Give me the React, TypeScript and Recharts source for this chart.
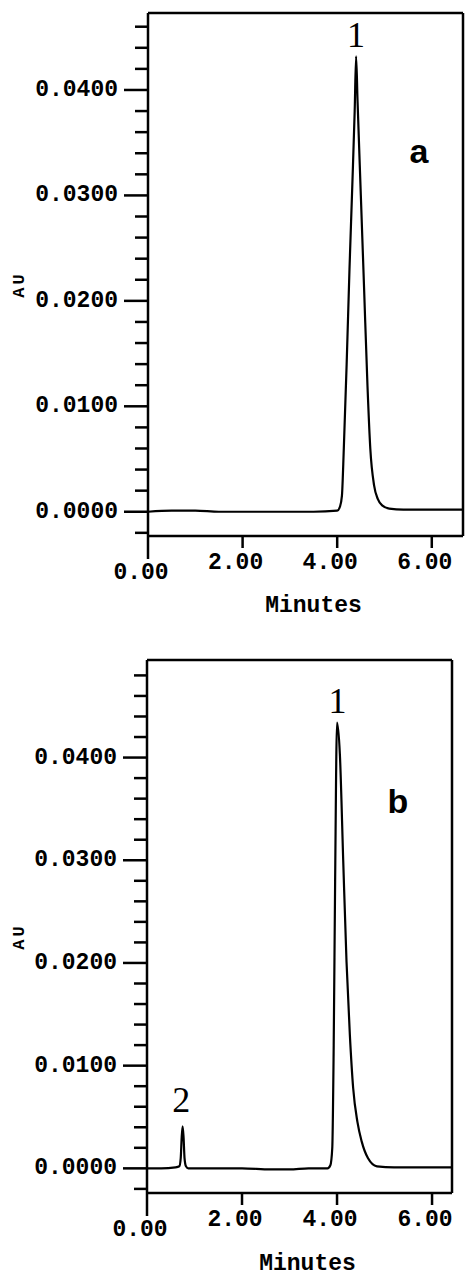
import React from 'react';
import {
  LineChart,
  Line,
  XAxis,
  YAxis,
  ReferenceLine,
  ReferenceDot,
} from 'recharts';

// panel a: retention time (min) and absorbance (AU)
const timeA = [0, 0.5, 1.0, 1.5, 2.0, 2.5, 3.0, 3.5, 4.0, 4.06, 4.1, 4.14, 4.2, 4.26, 4.32, 4.37, 4.4, 4.43, 4.5, 4.57, 4.64, 4.7, 4.78, 4.86, 4.95, 5.1, 5.4, 5.8, 6.3, 6.66];
const auA = [0.0, 0.0001, 0.0001, 0.0, 0.0, 0.0, 0.0, 0.0, 0.0001, 0.0005, 0.0015, 0.006, 0.014, 0.023, 0.031, 0.038, 0.0432, 0.039, 0.03, 0.021, 0.012, 0.006, 0.0025, 0.0012, 0.0006, 0.0003, 0.0002, 0.0002, 0.0002, 0.0002];

// panel b
const timeB = [0, 0.3, 0.6, 0.68, 0.71, 0.73, 0.75, 0.77, 0.79, 0.82, 0.87, 1.3, 2.0, 2.6, 3.0, 3.4, 3.8, 3.86, 3.9, 3.93, 3.96, 4.0, 4.06, 4.13, 4.2, 4.27, 4.34, 4.43, 4.52, 4.65, 4.84, 5.2, 5.8, 6.42];
const auB = [0.0, 0.0, 0.0001, 0.0002, 0.001, 0.003, 0.0041, 0.003, 0.001, 0.0002, 0.0, 0.0, 0.0, -0.0001, -0.0001, 0.0, 0.0, 0.0003, 0.002, 0.012, 0.028, 0.0434, 0.0403, 0.03, 0.0201, 0.013, 0.0078, 0.0045, 0.0026, 0.001, 0.0002, 0.0001, 0.0001, 0.0001];

const yTicksA = [-0.002, 0, 0.002, 0.004, 0.006, 0.008, 0.01, 0.012, 0.014, 0.016, 0.018, 0.02, 0.022, 0.024, 0.026, 0.028, 0.03, 0.032, 0.034, 0.036, 0.038, 0.04, 0.042, 0.044, 0.046];
const yTicksB = [-0.002, 0, 0.002, 0.004, 0.006, 0.008, 0.01, 0.012, 0.014, 0.016, 0.018, 0.02, 0.022, 0.024, 0.026, 0.028, 0.03, 0.032, 0.034, 0.036, 0.038, 0.04, 0.042, 0.044, 0.046, 0.048];
const yMajorTicks = [0, 0.01, 0.02, 0.03, 0.04];
const yMajorLabels = ['0.0000', '0.0100', '0.0200', '0.0300', '0.0400'];
const xTicks = [0, 2, 4, 6];
const xTickLabels = ['0.00', '2.00', '4.00', '6.00'];

// peak numbers and panel letters (data coordinates)
const peakLabelsA = [{ t: 4.4, au: 0.0453, text: '1' }];
const peakLabelsB = [
  { t: 4.01, au: 0.0456, text: '1' },
  { t: 0.72, au: 0.0067, text: '2' },
];
const panelA = { t: 5.73, au: 0.0342, text: 'a' };
const panelB = { t: 5.28, au: 0.0358, text: 'b' };

const mono = "'Liberation Mono', 'Courier New', monospace";

interface PanelProps {
  time: number[];
  au: number[];
  xMax: number;
  yMin: number;
  yMax: number;
  yTicks: number[];
  top: number;
  height: number;
  marginTop: number;
  marginRight: number;
  yAxisWidth: number;
  xAxisHeight: number;
  titleY: number;
  peaks: { t: number; au: number; text: string }[];
  letter: { t: number; au: number; text: string };
}

const Panel: React.FC<PanelProps> = (p) => {
  const data = p.time.map((t, i) => ({ t, au: p.au[i] }));
  const axisX = p.yAxisWidth;
  const axisY = p.height - p.xAxisHeight;

  const YTick = (props: any) => {
    const v = props.payload.value;
    const idx = yMajorTicks.indexOf(v);
    const major = idx >= 0;
    return (
      <g>
        <line x1={axisX - (major ? 24 : 13)} x2={axisX} y1={props.y} y2={props.y} stroke="#000" strokeWidth={2.5} />
        {major && (
          <text x={axisX - 30} y={props.y} textAnchor="end" dominantBaseline="central"
            fontFamily={mono} fontWeight={700} fontSize={23} fill="#000">
            {yMajorLabels[idx]}
          </text>
        )}
      </g>
    );
  };

  const XTick = (props: any) => {
    const v = props.payload.value;
    const idx = xTicks.indexOf(v);
    const zero = v === 0;
    return (
      <g>
        <line x1={props.x} x2={props.x} y1={axisY} y2={axisY + (zero ? 23 : 12)} stroke="#000" strokeWidth={2.5} />
        <text x={props.x - 7} y={axisY + (zero ? 37 : 27)} textAnchor="middle" dominantBaseline="central"
          fontFamily={mono} fontWeight={700} fontSize={23} fill="#000">
          {xTickLabels[idx]}
        </text>
      </g>
    );
  };

  return (
    <div style={{ position: 'absolute', left: 0, top: p.top, width: 466, height: p.height }}>
      <LineChart width={466} height={p.height} data={data}
        margin={{ top: p.marginTop, right: p.marginRight, left: 0, bottom: 0 }}>
        <XAxis type="number" dataKey="t" domain={[0, p.xMax]} ticks={xTicks} allowDataOverflow
          height={p.xAxisHeight} tickLine={false} axisLine={{ stroke: '#000', strokeWidth: 2.5 }}
          tick={XTick} interval={0}
          label={{
            content: (lp: any) => (
              <text x={lp.viewBox.x + lp.viewBox.width / 2 + 8} y={p.titleY}
                textAnchor="middle" dominantBaseline="central" fontFamily={mono} fontWeight={700} fontSize={23} fill="#000">
                Minutes
              </text>
            ),
          }} />
        <YAxis type="number" domain={[p.yMin, p.yMax]} ticks={p.yTicks} allowDataOverflow
          width={p.yAxisWidth} tickLine={false} axisLine={{ stroke: '#000', strokeWidth: 2.5 }}
          tick={YTick} interval={0}
          label={{
            content: (lp: any) => {
              const cx = 19;
              const cy = lp.viewBox.y + lp.viewBox.height / 2 + 10;
              return (
                <text x={cx} y={cy} transform={`rotate(-90 ${cx} ${cy})`} textAnchor="middle"
                  dominantBaseline="central" fontFamily={mono} fontWeight={700} fontSize={17}
                  letterSpacing={3} fill="#000">
                  AU
                </text>
              );
            },
          }} />
        <ReferenceLine y={p.yMax} stroke="#000" strokeWidth={2.5} />
        <ReferenceLine x={p.xMax} stroke="#000" strokeWidth={2.5} />
        <Line type="monotone" dataKey="au" stroke="#000" strokeWidth={2.2} dot={false} isAnimationActive={false} />
        {p.peaks.map((pk) => (
          <ReferenceDot key={pk.text} x={pk.t} y={pk.au} r={0} stroke="none"
            label={{ value: pk.text, position: 'center', fontFamily: "'Liberation Serif', serif", fontSize: 36, fill: '#000' }} />
        ))}
        <ReferenceDot x={p.letter.t} y={p.letter.au} r={0} stroke="none"
          label={{ value: p.letter.text, position: 'center', fontFamily: "'Liberation Sans', Arial, sans-serif", fontWeight: 700, fontSize: 34, fill: '#000' }} />
      </LineChart>
    </div>
  );
};

export default function App() {
  return (
    <div style={{ position: 'absolute', left: 0, top: 0, width: 466, height: 1278, background: '#fff' }}>
      <Panel time={timeA} au={auA} xMax={6.66} yMin={-0.0023} yMax={0.0473} yTicks={yTicksA}
        top={0} height={640} marginTop={13} marginRight={3} yAxisWidth={148} xAxisHeight={104}
        titleY={606} peaks={peakLabelsA} letter={panelA} />
      <Panel time={timeB} au={auB} xMax={6.42} yMin={-0.0024} yMax={0.0495} yTicks={yTicksB}
        top={640} height={638} marginTop={20} marginRight={14} yAxisWidth={147} xAxisHeight={85}
        titleY={624} peaks={peakLabelsB} letter={panelB} />
    </div>
  );
}
